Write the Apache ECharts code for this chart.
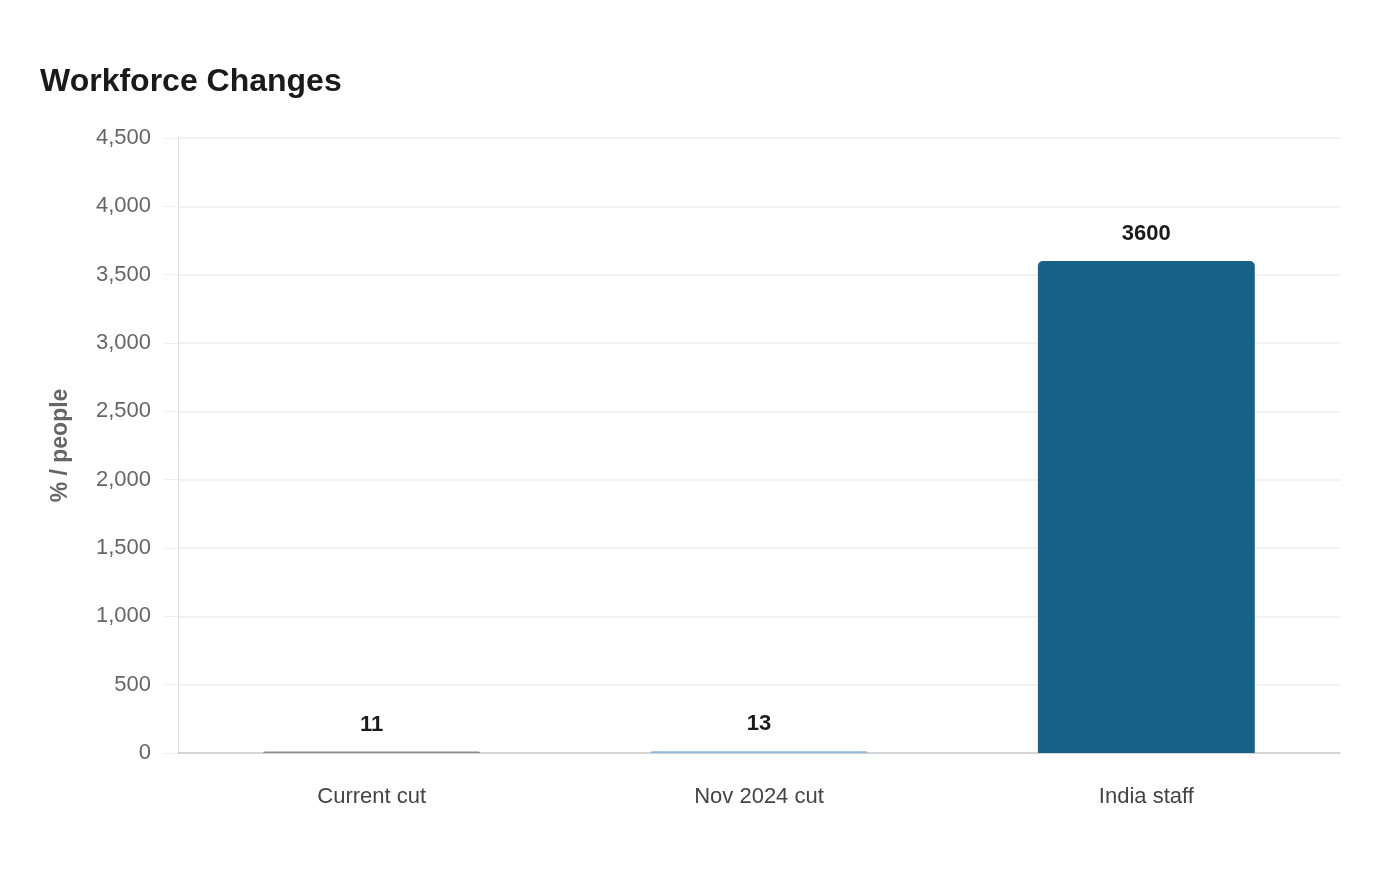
<!DOCTYPE html>
<html>
<head>
<meta charset="utf-8">
<script src="https://cdn.jsdelivr.net/npm/echarts@6/dist/echarts.min.js"></script>
<style>
  html, body { margin: 0; padding: 0; background: #fff; }
  #chart { width: 1400px; height: 880px; }
</style>
</head>
<body>
<div id="chart"></div>
<script>
const categories = ['Current cut', 'Nov 2024 cut', 'India staff'];
const values = [11, 13, 3600];
const barColors = ['#8c8c8c', '#8fb9dd', '#176289'];
const yTicks = { min: 0, max: 4500, interval: 500 };

const chart = echarts.init(document.getElementById('chart'));

chart.setOption({
  animation: false,
  textStyle: { fontFamily: 'Liberation Sans, Arial, sans-serif' },
  title: {
    text: 'Workforce Changes',
    left: 40,
    top: 66,
    padding: 0,
    textStyle: { fontSize: 32, fontWeight: 'bold', color: '#1a1a1a' }
  },
  grid: { left: 178, right: 60, top: 138, bottom: 127 },
  xAxis: {
    type: 'category',
    data: categories,
    axisLine: { lineStyle: { color: '#cccccc', width: 1.5 } },
    axisTick: { show: false },
    axisLabel: { color: '#444', fontSize: 22, margin: 33 }
  },
  yAxis: {
    type: 'value',
    min: yTicks.min,
    max: yTicks.max,
    interval: yTicks.interval,
    name: '% / people',
    nameLocation: 'middle',
    nameGap: 106,
    nameTextStyle: { color: '#666', fontSize: 23, fontWeight: 'bold' },
    axisLine: { show: true, lineStyle: { color: '#dddddd' } },
    axisTick: { show: true, length: 14, lineStyle: { color: '#eeeeee' } },
    axisLabel: {
      color: '#666',
      fontSize: 22,
      margin: 27,
      padding: [4, 0, 0, 0],
      formatter: (v) => v.toLocaleString('en-US')
    },
    splitLine: { lineStyle: { color: '#eeeeee', width: 1.5 } }
  },
  series: [
    {
      type: 'bar',
      barWidth: '56%',
      data: values.map((v, i) => ({ value: v, itemStyle: { color: barColors[i] } })),
      itemStyle: { borderRadius: [5, 5, 0, 0] },
      label: {
        show: true,
        position: 'top',
        distance: 16,
        color: '#1a1a1a',
        fontSize: 22,
        fontWeight: 'bold'
      }
    }
  ]
});

window.addEventListener('resize', () => chart.resize());
</script>
</body>
</html>
